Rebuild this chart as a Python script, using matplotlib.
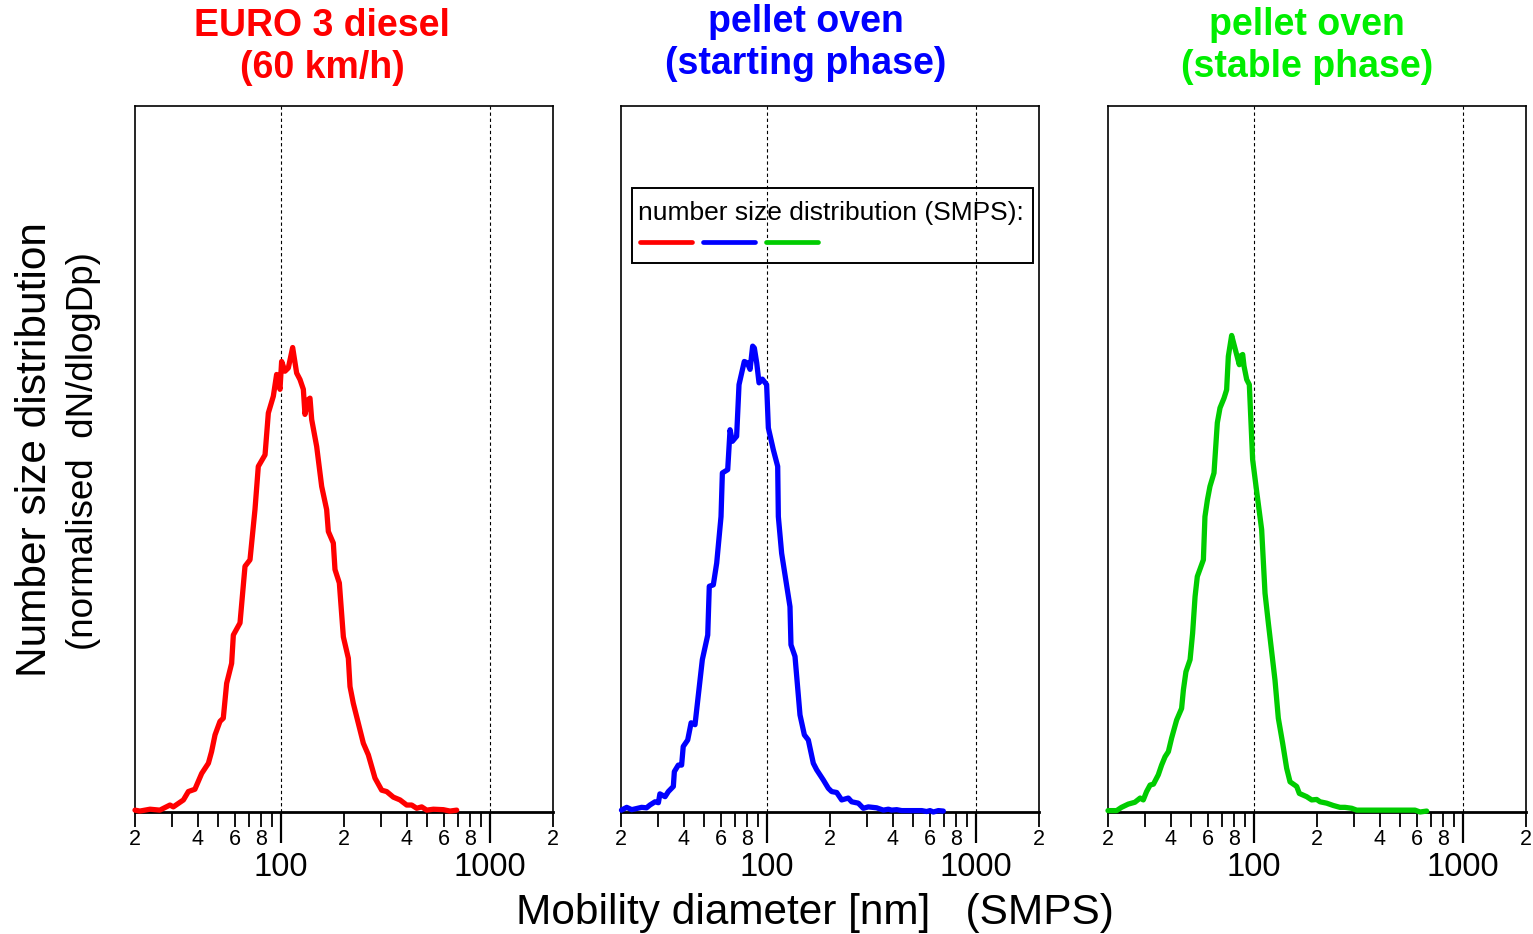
import numpy as np
import matplotlib
matplotlib.use("Agg")
import matplotlib.pyplot as plt
from matplotlib.ticker import FixedLocator, FuncFormatter
from matplotlib.patches import Rectangle
from matplotlib.lines import Line2D

plt.rcParams["font.family"] = ["Liberation Sans", "DejaVu Sans"]

# Mobility diameters [nm] and normalised dN/dlogDp for each source
diesel_dp = [20.0, 21.1, 23.6, 26.3, 29.4, 30.5, 34.1, 36.0, 38.7, 41.7, 44.9, 46.5,
             48.3, 51.0, 52.9, 54.9, 58.0, 59.1, 63.6, 67.2, 71.0, 75.0, 77.8, 83.8,
             86.9, 91.8, 95.2, 98.8, 100.6, 104.4, 108.3, 113.6, 118.7, 123.2, 127.8,
             130.1, 135.0, 137.5, 140.1, 148.0, 156.4, 165.2, 168.3, 177.8, 181.1,
             190.0, 198.6, 209.8, 213.7, 221.6, 247.5, 261.5, 281.4, 302.9, 320.0,
             344.4, 370.7, 399.0, 421.6, 445.5, 470.7, 497.4, 535.3, 597.6, 643.0, 692.1]
diesel_n = [0.004, 0.002, 0.006, 0.004, 0.015, 0.011, 0.026, 0.044, 0.049, 0.083, 0.105,
            0.130, 0.166, 0.195, 0.202, 0.277, 0.320, 0.381, 0.407, 0.529, 0.543, 0.651,
            0.744, 0.769, 0.859, 0.895, 0.942, 0.910, 0.970, 0.949, 0.956, 1.000, 0.945,
            0.931, 0.910, 0.856, 0.888, 0.891, 0.845, 0.787, 0.701, 0.651, 0.604, 0.579,
            0.522, 0.493, 0.377, 0.331, 0.270, 0.234, 0.148, 0.123, 0.073, 0.047, 0.044,
            0.032, 0.026, 0.015, 0.015, 0.008, 0.011, 0.004, 0.006, 0.005, 0.002, 0.004]

start_dp = [20.1, 21.3, 22.5, 25.1, 26.5, 27.5, 29.1, 30.2, 30.7, 32.5, 33.7, 35.6, 36.0,
            37.6, 39.0, 39.7, 41.7, 43.3, 45.2, 46.6, 49.0, 52.0, 52.9, 55.3, 57.4, 60.2,
            61.1, 64.8, 66.5, 68.2, 71.5, 73.4, 77.8, 80.4, 82.9, 85.3, 86.9, 89.2, 91.5,
            94.9, 99.5, 101.4, 107.1, 112.4, 113.2, 117.4, 128.7, 130.1, 136.0, 143.7,
            150.8, 157.5, 166.4, 172.6, 185.8, 196.4, 203.7, 215.3, 227.5, 244.7, 253.9,
            273.3, 288.7, 305.1, 334.4, 359.9, 380.3, 394.5, 416.9, 440.6, 510.2, 549.2,
            580.0, 602.0, 624.5, 659.8, 697.1]
start_n = [0.004, 0.010, 0.005, 0.010, 0.009, 0.015, 0.022, 0.020, 0.039, 0.033, 0.044,
           0.055, 0.087, 0.101, 0.101, 0.141, 0.155, 0.192, 0.188, 0.241, 0.328, 0.381,
           0.486, 0.489, 0.536, 0.636, 0.730, 0.737, 0.823, 0.798, 0.809, 0.920, 0.970,
           0.967, 0.953, 1.003, 0.999, 0.967, 0.924, 0.932, 0.920, 0.827, 0.780, 0.744,
           0.636, 0.557, 0.442, 0.360, 0.335, 0.209, 0.166, 0.155, 0.105, 0.091, 0.069,
           0.051, 0.044, 0.042, 0.026, 0.030, 0.022, 0.019, 0.008, 0.011, 0.009, 0.004,
           0.006, 0.004, 0.005, 0.003, 0.003, 0.003, 0.001, 0.003, 0.000, 0.003, 0.002]

stable_dp = [20.0, 22.0, 23.2, 25.0, 26.9, 28.5, 29.5, 30.6, 31.8, 33.0, 34.8, 36.1,
             37.5, 38.9, 40.3, 42.6, 45.0, 45.9, 47.2, 49.4, 50.8, 52.2, 53.5, 57.2,
             58.2, 59.8, 61.5, 64.3, 66.7, 68.7, 71.8, 73.9, 75.3, 78.1, 80.2, 82.5,
             85.0, 85.6, 88.2, 89.5, 92.2, 94.9, 98.4, 102.9, 108.7, 112.8, 117.0, 125.9,
             130.6, 137.0, 143.2, 148.6, 159.9, 164.6, 178.5, 188.6, 199.3, 206.8, 222.5,
             239.4, 257.7, 272.3, 293.1, 309.7, 345.8, 447.2, 588.8, 622.4, 669.6]
stable_n = [0.003, 0.003, 0.010, 0.017, 0.021, 0.030, 0.026, 0.044, 0.058, 0.060, 0.080,
            0.101, 0.119, 0.130, 0.159, 0.198, 0.223, 0.263, 0.302, 0.328, 0.385, 0.464,
            0.507, 0.543, 0.636, 0.672, 0.701, 0.730, 0.838, 0.870, 0.891, 0.909, 0.981,
            1.026, 1.006, 0.985, 0.963, 0.981, 0.985, 0.960, 0.931, 0.920, 0.759, 0.690,
            0.608, 0.471, 0.407, 0.284, 0.202, 0.148, 0.094, 0.065, 0.055, 0.040, 0.033,
            0.026, 0.027, 0.022, 0.019, 0.014, 0.010, 0.010, 0.008, 0.004, 0.004, 0.004,
            0.004, 0.000, 0.002]

titles = ["EURO 3 diesel\n(60 km/h)", "pellet oven\n(starting phase)",
          "pellet oven\n(stable phase)"]
line_colors = ["#FF0000", "#0000FF", "#00CC00"]
title_colors = ["#FF0000", "#0000FF", "#00EE00"]
series = [(diesel_dp, diesel_n), (start_dp, start_n), (stable_dp, stable_n)]

major_ticks = [100, 1000]
minor_ticks = [20, 30, 40, 50, 60, 70, 80, 90, 200, 300, 400, 500, 600, 700, 800, 900, 2000]
minor_labelled = {2, 4, 6, 8}

fig = plt.figure(figsize=(15.33, 9.34), dpi=100)
W, H = 1533.0, 934.0
lefts = [135, 621, 1108]
width_px = 418
bottom_px, top_px = 812, 106
title_x = [322, 806, 1307]
title_y = [47, 43, 46]


def minor_fmt(v, p):
    lead = int(round(v / 10 ** np.floor(np.log10(v) + 1e-9)))
    return str(lead) if lead in minor_labelled else ""


for i, (dp, n) in enumerate(series):
    ax = fig.add_axes([lefts[i] / W, 1 - bottom_px / H, width_px / W, (bottom_px - top_px) / H])
    ax.set_xscale("log")
    ax.set_xlim(20, 2000)
    ax.set_ylim(0, 1.52)
    ax.plot(dp, n, color=line_colors[i], lw=3.8, solid_joinstyle="round",
            solid_capstyle="round", zorder=3, clip_on=False)
    for xv in major_ticks:
        ax.axvline(xv, color="black", lw=0.8, ls=(0, (3, 2.5)), zorder=1)
    ax.set_yticks([])
    ax.xaxis.set_major_locator(FixedLocator(major_ticks))
    ax.xaxis.set_minor_locator(FixedLocator(minor_ticks))
    ax.xaxis.set_major_formatter(FuncFormatter(lambda v, p: f"{int(round(v))}"))
    ax.xaxis.set_minor_formatter(FuncFormatter(minor_fmt))
    ax.tick_params(axis="x", which="major", direction="out", length=22, width=1.6,
                   labelsize=23.5, pad=7)
    ax.tick_params(axis="x", which="minor", direction="out", length=11, width=1.3,
                   labelsize=15.5, pad=1.5)
    for side in ["left", "right", "top"]:
        ax.spines[side].set_linewidth(1.2)
    ax.spines["bottom"].set_linewidth(2.0)
    fig.text(title_x[i] / W, 1 - title_y[i] / H, titles[i], color=title_colors[i],
             fontsize=27, fontweight="bold", ha="center", va="center", linespacing=1.2)

    if i == 1:
        # legend block drawn inside the middle panel
        ax.add_patch(Rectangle((0.026, 0.778), 0.96, 0.106, transform=ax.transAxes,
                               fill=False, edgecolor="black", lw=1.4, zorder=4))
        ax.text(0.04, 0.849, "number size distribution (SMPS):", transform=ax.transAxes,
                fontsize=19, ha="left", va="center", zorder=5)
        segs = [(0.046, 0.170), (0.197, 0.321), (0.348, 0.472)]
        for (x0, x1), c in zip(segs, line_colors):
            ax.add_line(Line2D([x0, x1], [0.807, 0.807], transform=ax.transAxes,
                               color=c, lw=3.4, solid_capstyle="round", zorder=5))

fig.text(35 / W, 1 - 450 / H, "Number size distribution", rotation=90, fontsize=30.5,
         ha="center", va="center")
fig.text(84 / W, 1 - 451 / H, "(normalised  dN/dlogDp)", rotation=90, fontsize=26.5,
         ha="center", va="center")
fig.text(815 / W, 1 - 913 / H, "Mobility diameter [nm]   (SMPS)", fontsize=30.5,
         ha="center", va="center")

fig.savefig("out.png", dpi=100)
